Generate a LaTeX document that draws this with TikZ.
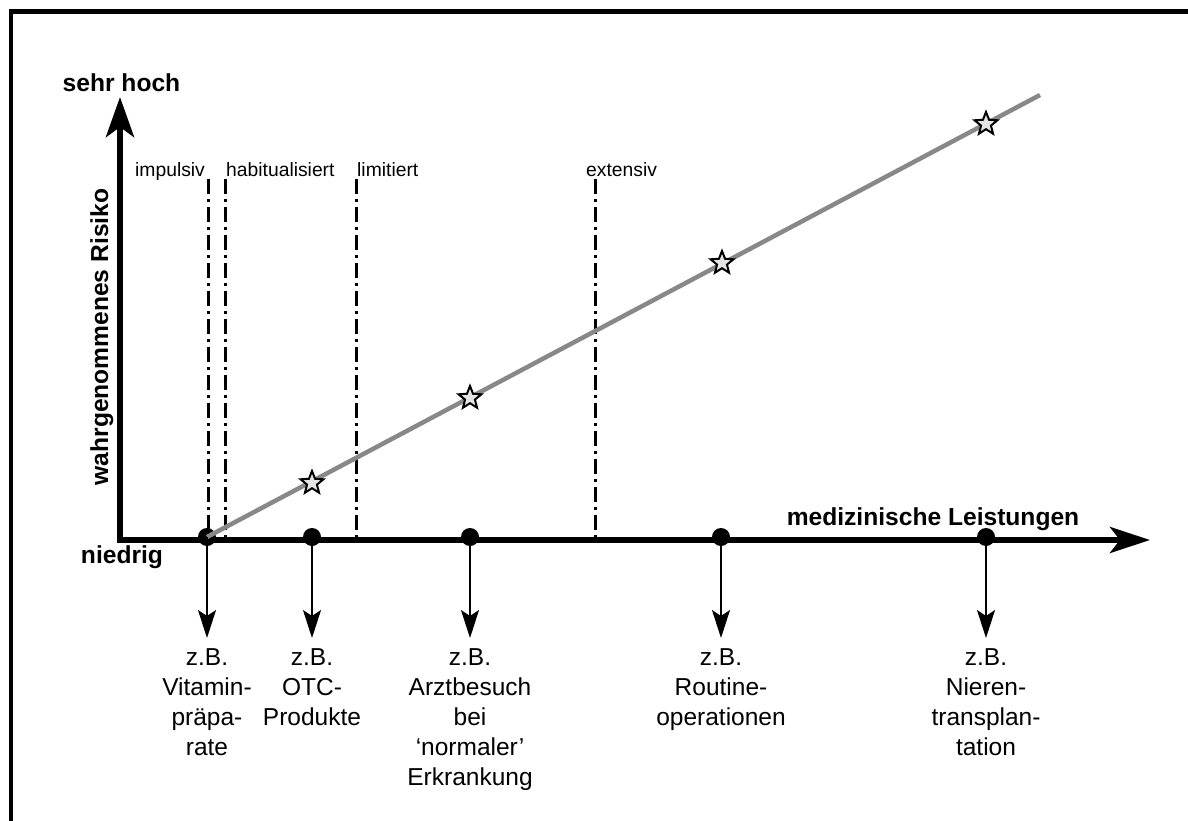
\documentclass[tikz,border=0pt]{standalone}
\usepackage{fontspec}
\setmainfont{Liberation Sans}
\usetikzlibrary{arrows.meta,shapes.geometric}
\definecolor{trendgray}{RGB}{136,136,136}
\definecolor{starfill}{RGB}{228,228,228}
\begin{document}
\begin{tikzpicture}[x=1pt,y=-1pt,
  smalllbl/.style={font=\fontsize{19.3}{23}\selectfont, anchor=base west, inner sep=0pt},
  boldlbl/.style={font=\bfseries\fontsize{24.6}{29}\selectfont, inner sep=0pt},
  exlbl/.style={font=\fontsize{24.5}{30}\selectfont, align=center, anchor=north, inner sep=0pt},
  dashdot/.style={line width=3pt, dash pattern=on 15pt off 5pt on 3pt off 5pt},
  axisline/.style={line width=6pt, line join=miter},
  dot/.style={circle, fill=black, inner sep=0pt, minimum size=18pt},
  starnode/.style={star, star points=5, star point ratio=2.3, draw=black, line width=2pt, fill=starfill, inner sep=0pt, minimum size=24pt},
  downarrow/.style={line width=2pt, -{Stealth[length=28pt,width=18pt,inset=6pt]}},
  trend/.style={line width=4.5pt, draw=trendgray},
  frameline/.style={line width=4.5pt, line join=miter}
]
\useasboundingbox (0,0) rectangle (1188,821);
% frame
\draw[frameline] (11,830) -- (11,11.5) -- (1200,11.5);
% dash-dot lines
\coordinate (v1t) at (208,179); \coordinate (v1b) at (208,540);
\coordinate (v2t) at (225,179); \coordinate (v2b) at (225,540);
\coordinate (v3t) at (356,179); \coordinate (v3b) at (356,540);
\coordinate (v4t) at (595,179); \coordinate (v4b) at (595,540);
\draw[dashdot] (v1t) -- (v1b);
\draw[dashdot] (v2t) -- (v2b);
\draw[dashdot] (v3t) -- (v3b);
\draw[dashdot] (v4t) -- (v4b);
% axes
\coordinate (O) at (120,540);
\coordinate (ytip) at (120,97);
\coordinate (xtip) at (1150,540);
\draw[axisline, {Stealth[length=40pt,width=28pt,inset=10pt]}-{Stealth[length=40pt,width=26pt,inset=10pt]}] (ytip) -- (O) -- (xtip);
% dots
\node[dot] (d1) at (207,537) {};
\node[dot] (d2) at (312,537) {};
\node[dot] (d3) at (470,537) {};
\node[dot] (d4) at (721,537) {};
\node[dot] (d5) at (986,537) {};
% trend line
\coordinate (tend) at (1040,95);
\draw[trend] (d1.center) -- (tend);
% stars
\node[starnode] (s1) at (312,483) {};
\node[starnode] (s2) at (470,398) {};
\node[starnode] (s3) at (722,263) {};
\node[starnode] (s4) at (986,124) {};
% down arrows
\coordinate (t1) at (207,638);
\coordinate (t2) at (312,638);
\coordinate (t3) at (470,638);
\coordinate (t4) at (721,638);
\coordinate (t5) at (986,638);
\draw[downarrow] (d1.center) -- (t1);
\draw[downarrow] (d2.center) -- (t2);
\draw[downarrow] (d3.center) -- (t3);
\draw[downarrow] (d4.center) -- (t4);
\draw[downarrow] (d5.center) -- (t5);
% example labels
\node[exlbl] (l1) at (207,648) {z.B.\\Vitamin-\\präpa-\\rate};
\node[exlbl] (l2) at (312,648) {z.B.\\OTC-\\Produkte};
\node[exlbl] (l3) at (470,648) {z.B.\\Arztbesuch\\bei\\‘normaler’\\Erkrankung};
\node[exlbl] (l4) at (721,648) {z.B.\\Routine-\\operationen};
\node[exlbl] (l5) at (986,648) {z.B.\\Nieren-\\transplan-\\tation};
% small labels
\node[smalllbl] (p1) at (135,177) {impulsiv};
\node[smalllbl] (p2) at (226,177) {habitualisiert};
\node[smalllbl] (p3) at (357,177) {limitiert};
\node[smalllbl] (p4) at (586,177) {extensiv};
% axis labels
\node[boldlbl, anchor=base] (hoch) at (121.5,92) {sehr hoch};
\node[boldlbl, anchor=base] (niedrig) at (122,563) {niedrig};
\node[boldlbl, anchor=base] (xlabel) at (933,525) {medizinische Leistungen};
\node[boldlbl, anchor=base, rotate=90] (ylabel) at (108,337) {wahrgenommenes Risiko};
\end{tikzpicture}
\end{document}
